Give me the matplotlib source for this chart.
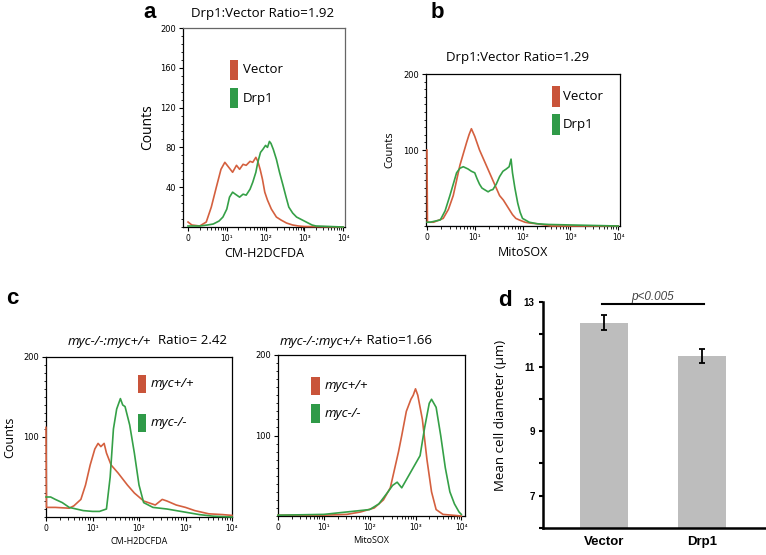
import numpy as np
import matplotlib
matplotlib.use('Agg')
import matplotlib.pyplot as plt
from matplotlib.patches import Rectangle
from matplotlib.ticker import FixedLocator, MultipleLocator

plt.rcParams['font.family'] = ['Open Sans', 'DejaVu Sans']

# ---- data (x in decades of fluorescence, y in counts) ----
# panel a: CM-H2DCFDA, Vector vs Drp1
a_x_vec = [0, 0.1, 0.3, 0.47, 0.6, 0.73, 0.85, 0.95, 1.05, 1.15, 1.25, 1.33, 1.42, 1.5,
           1.6, 1.67, 1.75, 1.8, 1.86, 1.92, 1.98, 2.05, 2.15, 2.28, 2.4, 2.54, 2.7, 2.85, 3.0, 4.0]
a_vec = [5, 2, 1, 5, 20, 40, 58, 65, 60, 55, 62, 58, 63, 62,
         66, 65, 70, 66, 58, 48, 35, 27, 18, 10, 7, 4, 2, 1, 0.5, 0]
a_x_drp = [0, 0.3, 0.5, 0.65, 0.8, 0.9, 1.0, 1.07, 1.15, 1.22, 1.33, 1.42, 1.5, 1.6, 1.67,
           1.75, 1.8, 1.87, 1.93, 2.0, 2.05, 2.1, 2.14, 2.2, 2.28, 2.36, 2.45, 2.53, 2.6,
           2.7, 2.8, 2.95, 3.05, 3.2, 3.3, 4.0]
a_drp = [1, 1, 2, 3, 6, 10, 18, 30, 35, 33, 30, 33, 32, 38, 45,
         55, 65, 75, 78, 82, 80, 86, 84, 78, 68, 55, 42, 30, 20,
         14, 10, 7, 5, 2, 1, 0]

# panel b: MitoSOX, Vector vs Drp1
b_x_vec = [0, 0.01, 0.14, 0.34, 0.45, 0.55, 0.62, 0.69, 0.76, 0.83, 0.88, 0.93, 1.0, 1.1,
           1.17, 1.24, 1.31, 1.38, 1.45, 1.52, 1.6, 1.66, 1.72, 1.79, 1.86, 1.93, 2.05,
           2.14, 2.3, 2.4, 2.6, 4.0]
b_vec = [100, 5, 5, 10, 22, 40, 60, 80, 95, 110, 120, 128, 118, 100,
         90, 80, 70, 60, 50, 40, 34, 28, 22, 15, 10, 8, 5,
         4, 3, 2, 0, 0]
b_x_drp = [0, 0.07, 0.28, 0.38, 0.48, 0.55, 0.62, 0.69, 0.76, 0.86, 0.93, 1.0, 1.05, 1.1,
           1.15, 1.2, 1.28, 1.33, 1.38, 1.45, 1.52, 1.59, 1.66, 1.72, 1.76, 1.79, 1.84,
           1.9, 1.95, 2.0, 2.14, 2.3, 2.55, 4.0]
b_drp = [5, 5, 8, 20, 40, 55, 70, 76, 78, 75, 72, 70, 62, 55,
         50, 48, 45, 47, 48, 55, 65, 72, 75, 78, 88, 70, 50,
         30, 18, 10, 5, 3, 2, 0]

# panel c (left): CM-H2DCFDA, myc+/+ vs myc-/-
cl_x_wt = [0, 0.01, 0.2, 0.5, 0.6, 0.75, 0.85, 0.95, 1.05, 1.12, 1.18, 1.25, 1.3, 1.4,
           1.55, 1.75, 1.9, 2.1, 2.35, 2.5, 2.6, 2.8, 3.0, 3.2, 3.5, 3.8, 4.0]
cl_wt = [112, 12, 12, 11, 14, 22, 40, 65, 85, 92, 88, 92, 80, 65,
         55, 40, 30, 20, 15, 22, 20, 15, 12, 8, 4, 3, 2]
cl_x_ko = [0, 0.1, 0.2, 0.35, 0.5, 0.8, 1.0, 1.15, 1.3, 1.38, 1.45, 1.52, 1.6, 1.65,
           1.7, 1.8, 1.9, 2.0, 2.1, 2.3, 2.6, 3.0, 3.3, 3.6, 4.0]
cl_ko = [25, 25, 22, 18, 12, 8, 7, 7, 10, 50, 110, 135, 148, 140,
         138, 115, 80, 40, 18, 12, 10, 6, 3, 1, 0]

# panel c (right): MitoSOX, myc+/+ vs myc-/-
cr_x_wt = [0, 1.0, 1.5, 1.8, 2.1, 2.3, 2.45, 2.55, 2.63, 2.7, 2.8, 2.9, 2.95, 3.0,
           3.05, 3.1, 3.15, 3.25, 3.35, 3.45, 3.6, 4.0]
cr_wt = [1, 1, 2, 5, 10, 20, 35, 60, 80, 100, 130, 145, 150, 158,
         150, 135, 120, 70, 30, 8, 2, 0]
cr_x_ko = [0, 1.0, 1.5, 2.0, 2.2, 2.4, 2.5, 2.6, 2.7, 2.8, 2.95, 3.1, 3.2, 3.3,
           3.35, 3.4, 3.45, 3.55, 3.65, 3.75, 3.85, 3.95, 4.0]
cr_ko = [1, 2, 5, 8, 15, 30, 38, 42, 35, 45, 60, 75, 110, 140,
         145, 140, 135, 100, 60, 30, 15, 5, 2]

# panel d: mean cell diameter
d_groups = ['Vector', 'Drp1']
d_means = [12.36, 11.32]
d_err = [0.24, 0.22]

decade_labels = ['0', '10\u00b9', '10\u00b2', '10\u00b3', '10\u2074']

RED = '#d4603f'
GREEN = '#35a047'
RED_BOX = '#c9543a'
GREEN_BOX = '#2f9a48'

W, H = 766, 555
fig = plt.figure(figsize=(W / 100, H / 100), dpi=100)


def px_axes(x0, y0, x1, y1):
    # axes from pixel box (top-left origin)
    return fig.add_axes([x0 / W, 1 - y1 / H, (x1 - x0) / W, (y1 - y0) / H])


def ftext(x, y, s, **kw):
    return fig.text(x / W, 1 - y / H, s, **kw)


def histo_axes(ax, xlim, yticks, yminor):
    ax.set_xlim(*xlim)
    ax.set_ylim(0, 200)
    ax.set_xticks(range(5))
    ax.set_xticklabels(decade_labels, fontsize=5.5, family='DejaVu Sans')
    minors = [d + np.log10(k) for d in range(4) for k in range(2, 10)]
    ax.xaxis.set_minor_locator(FixedLocator(minors))
    ax.set_yticks(yticks)
    ax.set_yticklabels([str(t) for t in yticks], fontsize=6, family='DejaVu Sans')
    ax.yaxis.set_minor_locator(MultipleLocator(yminor))
    ax.tick_params(which='major', length=3, width=0.8, pad=2, direction='out')
    ax.tick_params(which='minor', length=1.8, width=0.6, direction='out')
    for sp in ax.spines.values():
        sp.set_linewidth(0.9)


def draw_hist(ax, x, y, color):
    ax.plot(x, y, color=color, lw=1.2, zorder=3, clip_on=False)


def legend_boxes(ax, x, ys, labels, colors, w, h, tx, italic=False):
    for y, lab, c in zip(ys, labels, colors):
        ax.add_patch(Rectangle((x, y), w, h, transform=ax.transAxes,
                               facecolor=c, edgecolor='none'))
        ax.text(tx, y + h / 2, lab, transform=ax.transAxes, fontsize=9.5,
                va='center', ha='left', style='italic' if italic else 'normal')


# ---- panel a ----
ax_a = px_axes(183, 28, 345, 227)
draw_hist(ax_a, a_x_vec, a_vec, RED)
draw_hist(ax_a, a_x_drp, a_drp, GREEN)
histo_axes(ax_a, (-0.13, 4.05), [40, 80, 120, 160, 200], 8)
for sp in ['top', 'right']:
    ax_a.spines[sp].set_color('#666666')
legend_boxes(ax_a, 0.29, [0.739, 0.598], ['Vector', 'Drp1'], [RED_BOX, GREEN_BOX],
             0.05, 0.1, 0.37)
ax_a.set_ylabel('Counts', fontsize=10, labelpad=4)
ax_a.set_xlabel('CM-H2DCFDA', fontsize=9, labelpad=3)
ftext(263, 13, 'Drp1:Vector Ratio=1.92', fontsize=9.5, ha='center', va='center')
ftext(150, 12, 'a', fontsize=16, fontweight='bold', ha='center', va='center',
      family='Liberation Sans')

# ---- panel b ----
ax_b = px_axes(426, 74, 620, 226)
ax_b.axhline(0.6, color='#3050a0', lw=0.8)
draw_hist(ax_b, b_x_vec, b_vec, RED)
draw_hist(ax_b, b_x_drp, b_drp, GREEN)
histo_axes(ax_b, (-0.02, 4.04), [100, 200], 10)
legend_boxes(ax_b, 0.65, [0.783, 0.599], ['Vector', 'Drp1'], [RED_BOX, GREEN_BOX],
             0.041, 0.135, 0.706)
ax_b.set_ylabel('Counts', fontsize=8, labelpad=6)
ax_b.set_xlabel('MitoSOX', fontsize=9, labelpad=3)
ftext(518, 58, 'Drp1:Vector Ratio=1.29', fontsize=9.5, ha='center', va='center')
ftext(437, 12, 'b', fontsize=16, fontweight='bold', ha='center', va='center',
      family='Liberation Sans')

# ---- panel c left ----
ax_cl = px_axes(46, 357, 232, 517)
draw_hist(ax_cl, cl_x_wt, cl_wt, RED)
draw_hist(ax_cl, cl_x_ko, cl_ko, GREEN)
histo_axes(ax_cl, (0, 4.0), [100, 200], 10)
legend_boxes(ax_cl, 0.495, [0.775, 0.531], ['myc+/+', 'myc-/-'], [RED_BOX, GREEN_BOX],
             0.043, 0.115, 0.56, italic=True)
ax_cl.set_ylabel('Counts', fontsize=9, labelpad=5)
ax_cl.set_xlabel('CM-H2DCFDA', fontsize=6.5, labelpad=3)
ftext(151, 341, 'myc-/-:myc+/+', fontsize=9.5, style='italic', ha='right', va='center')
ftext(151, 341, '  Ratio= 2.42', fontsize=9.5, ha='left', va='center')
ftext(12, 298, 'c', fontsize=16, fontweight='bold', ha='center', va='center',
      family='Liberation Sans')

# ---- panel c right ----
ax_cr = px_axes(278, 355, 465, 516)
draw_hist(ax_cr, cr_x_wt, cr_wt, RED)
draw_hist(ax_cr, cr_x_ko, cr_ko, GREEN)
histo_axes(ax_cr, (0, 4.08), [100, 200], 10)
legend_boxes(ax_cr, 0.176, [0.75, 0.578], ['myc+/+', 'myc-/-'], [RED_BOX, GREEN_BOX],
             0.048, 0.115, 0.25, italic=True)
ax_cr.set_xlabel('MitoSOX', fontsize=6.5, labelpad=3)
ftext(363, 341, 'myc-/-:myc+/+', fontsize=9.5, style='italic', ha='right', va='center')
ftext(363, 341, ' Ratio=1.66', fontsize=9.5, ha='left', va='center')

# ---- panel d ----
ax_d = px_axes(543, 302, 765, 528)
xpos = np.arange(len(d_groups))
ax_d.bar(xpos, d_means, width=0.49, color='#bdbdbd', edgecolor='none')
ax_d.errorbar(xpos, d_means, yerr=d_err, fmt='none', ecolor='black', elinewidth=1.3,
              capsize=2.2, capthick=1.3)
ax_d.set_xlim(-0.622, 1.643)
ax_d.set_ylim(6, 13)
ax_d.set_yticks([6, 7, 8, 9, 10, 11, 12, 13])
ax_d.set_yticklabels(['', '7', '', '9', '', '11', '', '13'], fontsize=7,
                     fontweight='bold', family='Liberation Sans')
ax_d.set_xticks(xpos)
ax_d.set_xticklabels(d_groups, fontsize=9.5, fontweight='bold', family='Liberation Sans')
ax_d.tick_params(axis='y', length=3, width=1.5, pad=3)
ax_d.tick_params(axis='x', length=0, pad=6)
for sp in ['top', 'right']:
    ax_d.spines[sp].set_visible(False)
for sp in ['left', 'bottom']:
    ax_d.spines[sp].set_linewidth(1.8)
ax_d.set_ylabel('Mean cell diameter (\u00b5m)', fontsize=9.5, labelpad=12)
ax_d.plot([-0.02, 1.02], [12.94, 12.94], color='black', lw=1.5, clip_on=False)
ax_d.text(0.5, 12.98, 'p<0.005', fontsize=8.5, style='italic', color='#444444',
          ha='center', va='bottom', family='Liberation Sans')
ftext(505, 300, 'd', fontsize=16, fontweight='bold', ha='center', va='center',
      family='Liberation Sans')

fig.savefig('out.png', dpi=100)
